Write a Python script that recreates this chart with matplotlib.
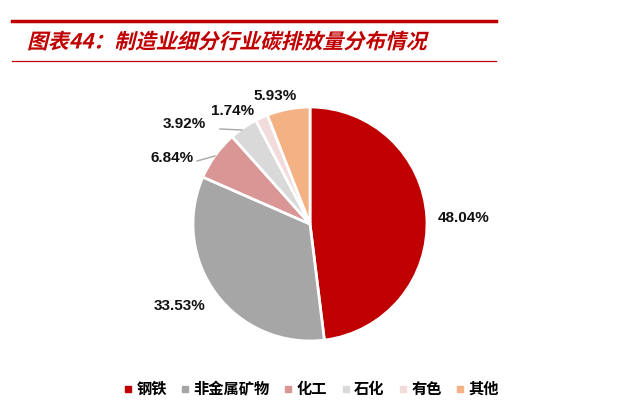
import matplotlib
matplotlib.use("Agg")
import matplotlib.pyplot as plt
from matplotlib.lines import Line2D
from matplotlib.patheffects import AbstractPathEffect
from matplotlib.transforms import Affine2D
import numpy as np

categories = ["钢铁", "非金属矿物", "化工", "石化", "有色", "其他"]
values = [48.04, 33.53, 6.84, 3.92, 1.74, 5.93]
labels = ["48.04%", "33.53%", "6.84%", "3.92%", "1.74%", "5.93%"]
colors = ["#C00000", "#A6A6A6", "#D99694", "#D9D9D9", "#F2DCDB", "#F4B183"]
title = "图表44：制造业细分行业碳排放量分布情况"

plt.rcParams['font.family'] = ['Noto Sans CJK SC', 'DejaVu Sans']

W, H = 640, 419
fig = plt.figure(figsize=(W / 100, H / 100), dpi=100)
ax = fig.add_axes([0, 0, 1, 1])

cx, cy, r = 310, H - 224, 117
wedges, _ = ax.pie(values, colors=colors, startangle=90, counterclock=False,
                   center=(cx, cy), radius=r,
                   wedgeprops=dict(edgecolor="white", linewidth=2))
ax.set_xlim(0, W)
ax.set_ylim(0, H)
ax.set_aspect("equal")
ax.axis("off")

# label positions (pixel offsets from pie centre)
label_pos = [(154, 6), (-130, -82), (-138, 66), (-126, 100), (-77, 113), (-35, 128)]
leaders = {2: [(-113, 63), (-95, 68)], 3: [(-90, 95), (-68, 94)]}
for i, (lab, (dx, dy)) in enumerate(zip(labels, label_pos)):
    ax.text(cx + dx, cy + dy, lab, ha="center", va="center", fontsize=11,
            fontweight="bold", family=["Liberation Sans", "DejaVu Sans"], color="#111111")
for i, pts in leaders.items():
    xs = [cx + p[0] for p in pts]
    ys = [cy + p[1] for p in pts]
    ax.plot(xs, ys, color="#A6A6A6", lw=1)


class Skew(AbstractPathEffect):
    def __init__(self, deg=14):
        super().__init__()
        self.deg = deg

    def draw_path(self, renderer, gc, tpath, affine, rgbFace=None):
        x0, y0 = affine.transform((0, 0))
        sk = Affine2D().translate(-x0, -y0).skew_deg(self.deg, 0).translate(x0, y0)
        renderer.draw_path(gc, tpath, affine + sk, rgbFace)


# title lines
fig.add_artist(Line2D([12 / W, 496 / W], [1 - 21.5 / H, 1 - 21.5 / H], color="#C00000", lw=2.5))
fig.add_artist(Line2D([12 / W, 496 / W], [1 - 61 / H, 1 - 61 / H], color="#C00000", lw=0.9))
fig.text(27 / W, 1 - 42 / H, title, fontsize=15, fontweight="bold", color="#C00000",
         ha="left", va="center", path_effects=[Skew(14)])

handles = [Line2D([], [], marker="s", linestyle="none", markersize=4,
                  markerfacecolor=c, markeredgecolor=c) for c in colors]
fig.legend(handles, categories, loc="center", bbox_to_anchor=(312 / W, 1 - 389 / H),
           ncol=6, frameon=False, prop=dict(size=11, weight="bold"),
           handlelength=0.4, handletextpad=0.35, columnspacing=1.0)

fig.savefig("out.png", dpi=100)
